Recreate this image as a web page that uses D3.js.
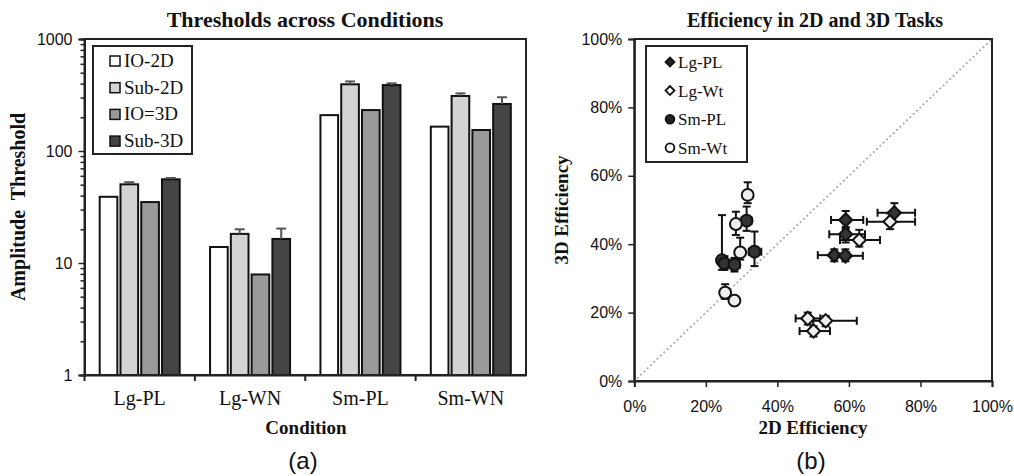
<!DOCTYPE html>
<html>
<head>
<meta charset="utf-8">
<script src="https://cdn.jsdelivr.net/npm/d3@7"></script>
<style>
  body { margin: 0; background: #fff; }
  svg text { fill: #111; }
  .serif { font-family: "Liberation Serif", "Times New Roman", serif; }
  .sans { font-family: "Liberation Sans", Arial, sans-serif; }
</style>
</head>
<body>
<script>
// ---- data: bar chart (a) ----
var categories = ["Lg-PL", "Lg-WN", "Sm-PL", "Sm-WN"];
var barSeries = ["IO-2D", "Sub-2D", "IO=3D", "Sub-3D"];
var io2d = [39, 13.9, 209, 165];
var sub2d = [50.4, 18.2, 394, 310];
var sub2dErr = [2.2, 1.8, 24, 17];
var io3d = [35, 7.9, 232, 154];
var sub3d = [55.9, 16.4, 388, 263];
var sub3dErr = [1.5, 3.9, 14, 39];
var logTicks = [1, 10, 100, 1000];

// ---- data: scatter (b) [x, y, xlo, xhi, ylo, yhi] in % ----
var scatterSeries = ["Lg-PL", "Lg-Wt", "Sm-PL", "Sm-Wt"];
var lgPL = [
  [72.7, 49.2, 68, 78.5, 46.5, 52],
  [59.1, 47.1, 55, 64, 44.5, 49.7],
  [59.1, 42.9, 54.5, 64.5, 40.5, 45],
  [55.9, 36.8, 51.3, 60, 35, 38.5],
  [59.0, 36.6, 55.5, 63.9, 35, 38.5]
];
var lgWt = [
  [71.5, 46.6, 65, 78.5, 44.4, 49],
  [62.9, 41.2, 57.5, 68.7, 39.3, 44.2],
  [48.5, 18.3, 45.1, 52, 16.5, 20],
  [53.5, 17.6, 50, 62.2, 16, 19],
  [50.1, 14.6, 46.2, 54.7, 13, 16]
];
var smPL = [
  [31.4, 46.9, 30, 32.8, 43.9, 51],
  [33.6, 37.8, 32, 35.5, 33.6, 43.7],
  [24.5, 35.3, 23.8, 25.5, 32.5, 48.5],
  [25.2, 34.4, 24.5, 26, 32.5, 36.5],
  [28.0, 34.0, 27, 29.5, 32, 36]
];
var smWt = [
  [31.7, 54.4, 30.8, 32.6, 52, 58.1],
  [28.4, 45.9, 27.5, 29.5, 42.7, 49.5],
  [29.6, 37.6, 28.8, 30.5, 35.5, 41.9],
  [25.4, 25.8, 25, 26, 24, 28.3],
  [28.0, 23.5, 27.5, 28.5, 22.5, 24.5]
];
var pctTicks = [0, 20, 40, 60, 80, 100];

var svg = d3.select("body").append("svg")
  .attr("width", 1014).attr("height", 476);

// ================= chart (a) =================
var a = {left: 84.5, right: 526, top: 39, bottom: 375};
var barFills = ["#ffffff", "#d3d3d3", "#9a9a9a", "#454545"];
var barValues = [io2d, sub2d, io3d, sub3d];
var barErrs = [null, sub2dErr, null, sub3dErr];

var xA = d3.scaleBand().domain(categories).range([a.left, a.right]);
var xInner = d3.scaleBand().domain(barSeries).range([-40, 40]).paddingInner(0.15);
var yA = d3.scaleLog().domain([1, 1000]).range([a.bottom, a.top]);

var gA = svg.append("g");

// bars
barSeries.forEach(function(s, si) {
  gA.selectAll(".bar" + si).data(categories).enter().append("rect")
    .attr("x", function(c) { return xA(c) + xA.bandwidth() / 2 + xInner(s); })
    .attr("width", xInner.bandwidth())
    .attr("y", function(c, i) { return yA(barValues[si][i]); })
    .attr("height", function(c, i) { return a.bottom - yA(barValues[si][i]); })
    .attr("fill", barFills[si])
    .attr("stroke", "#111").attr("stroke-width", 2);
  if (barErrs[si]) {
    categories.forEach(function(c, i) {
      var cx = xA(c) + xA.bandwidth() / 2 + xInner(s) + xInner.bandwidth() / 2;
      var y0 = yA(barValues[si][i]), y1 = yA(barValues[si][i] + barErrs[si][i]);
      gA.append("line").attr("x1", cx).attr("x2", cx).attr("y1", y0).attr("y2", y1)
        .attr("stroke", "#555").attr("stroke-width", 2);
      gA.append("line").attr("x1", cx - 5).attr("x2", cx + 5).attr("y1", y1).attr("y2", y1)
        .attr("stroke", "#555").attr("stroke-width", 2);
    });
  }
});

// frame
gA.append("rect").attr("x", a.left).attr("y", a.top)
  .attr("width", a.right - a.left).attr("height", a.bottom - a.top)
  .attr("fill", "none").attr("stroke", "#222").attr("stroke-width", 2);

// y axis (log) with minor ticks
var minor = [];
[1, 10, 100].forEach(function(d) { for (var k = 2; k <= 9; k++) minor.push(d * k); });
var yAxisA = d3.axisLeft(yA).tickValues(logTicks).tickFormat(d3.format("d")).tickSize(6).tickPadding(6);
var gy = gA.append("g").attr("transform", "translate(" + a.left + ",0)").call(yAxisA);
gy.selectAll("text").attr("class", "sans").style("font-size", "16px");
gA.append("g").attr("transform", "translate(" + a.left + ",0)")
  .call(d3.axisLeft(yA).tickValues(minor).tickFormat("").tickSize(4));

// x axis with ticks between categories
var gx = gA.append("g").attr("transform", "translate(0," + a.bottom + ")")
  .call(d3.axisBottom(xA).tickSize(0).tickPadding(16));
gx.selectAll("text").attr("class", "serif").style("font-size", "20px");
gA.selectAll(".sep").data(categories).enter().append("line")
  .attr("x1", function(c) { return xA(c); }).attr("x2", function(c) { return xA(c); })
  .attr("y1", a.bottom).attr("y2", a.bottom + 6)
  .attr("stroke", "#222").attr("stroke-width", 2);
svg.selectAll(".domain").attr("stroke", "#222").attr("stroke-width", 2);
svg.selectAll(".tick line").attr("stroke", "#222").attr("stroke-width", 1.5);

// titles
gA.append("text").attr("class", "serif").attr("x", 305).attr("y", 27)
  .attr("text-anchor", "middle").style("font-size", "22px").style("font-weight", "bold")
  .text("Thresholds across Conditions");
gA.append("text").attr("class", "serif").attr("x", 306).attr("y", 434)
  .attr("text-anchor", "middle").style("font-size", "19px").style("font-weight", "bold")
  .text("Condition");
gA.append("text").attr("class", "serif")
  .attr("transform", "translate(25,207) rotate(-90)")
  .attr("text-anchor", "middle").style("font-size", "20px").style("font-weight", "bold")
  .style("white-space", "pre").text("Amplitude  Threshold");
gA.append("text").attr("class", "sans").attr("x", 303).attr("y", 469)
  .attr("text-anchor", "middle").style("font-size", "24px").text("(a)");

// legend (a)
var legA = gA.append("g");
legA.append("rect").attr("x", 93).attr("y", 46).attr("width", 99).attr("height", 108)
  .attr("fill", "#fff").attr("stroke", "#222").attr("stroke-width", 2);
barSeries.forEach(function(s, i) {
  var cy = 61 + i * 26.7;
  legA.append("rect").attr("x", 110).attr("y", cy - 5).attr("width", 10).attr("height", 10)
    .attr("fill", barFills[i]).attr("stroke", "#111").attr("stroke-width", 1.5);
  legA.append("text").attr("class", "serif").attr("x", 124).attr("y", cy + 6)
    .style("font-size", "19px").text(s);
});

// ================= chart (b) =================
var b = {left: 634.3, right: 992, top: 39, bottom: 381};
var xB = d3.scaleLinear().domain([0, 100]).range([b.left, b.right]);
var yB = d3.scaleLinear().domain([0, 100]).range([b.bottom, b.top]);
var gB = svg.append("g");

gB.append("rect").attr("x", b.left).attr("y", b.top)
  .attr("width", b.right - b.left).attr("height", b.bottom - b.top)
  .attr("fill", "none").attr("stroke", "#222").attr("stroke-width", 2);

// diagonal reference
gB.append("line").attr("x1", xB(0)).attr("y1", yB(0)).attr("x2", xB(100)).attr("y2", yB(100))
  .attr("stroke", "#aaa").attr("stroke-width", 2)
  .attr("stroke-dasharray", "0.1,4.5").attr("stroke-linecap", "round");

var pct = function(d) { return d + "%"; };
var gyB = gB.append("g").attr("transform", "translate(" + b.left + ",0)")
  .call(d3.axisLeft(yB).tickValues(pctTicks).tickFormat(pct).tickSize(6).tickPadding(6));
gyB.selectAll("text").attr("class", "sans").style("font-size", "16px");
var gxB = gB.append("g").attr("transform", "translate(0," + b.bottom + ")")
  .call(d3.axisBottom(xB).tickValues(pctTicks).tickFormat(pct).tickSize(6).tickPadding(14));
gxB.selectAll("text").attr("class", "sans").style("font-size", "16px");
gB.selectAll(".domain").attr("stroke", "#222").attr("stroke-width", 2);
gB.selectAll(".tick line").attr("stroke", "#222").attr("stroke-width", 1.5);

var scatterData = [lgPL, lgWt, smPL, smWt];
var markerFill = ["#333", "#eee", "#333", "#eee"];
var markerType = [d3.symbolSquare, d3.symbolSquare, d3.symbolCircle, d3.symbolCircle];
var markerRot = [45, 45, 0, 0];
var markerSize = [88, 88, 110, 110];
var drawOrder = [1, 0, 2, 3];

// error bars
drawOrder.forEach(function(si) {
  scatterData[si].forEach(function(p) {
    var cx = xB(p[0]), cy = yB(p[1]);
    var segs = [
      [xB(p[2]), cy, xB(p[3]), cy],
      [xB(p[2]), cy - 4, xB(p[2]), cy + 4],
      [xB(p[3]), cy - 4, xB(p[3]), cy + 4],
      [cx, yB(p[4]), cx, yB(p[5])],
      [cx - 4, yB(p[4]), cx + 4, yB(p[4])],
      [cx - 4, yB(p[5]), cx + 4, yB(p[5])]
    ];
    segs.forEach(function(s) {
      gB.append("line").attr("x1", s[0]).attr("y1", s[1]).attr("x2", s[2]).attr("y2", s[3])
        .attr("stroke", "#111").attr("stroke-width", 2);
    });
  });
});

// markers
drawOrder.forEach(function(si) {
  gB.selectAll(".m" + si).data(scatterData[si]).enter().append("path")
    .attr("d", d3.symbol().type(markerType[si]).size(markerSize[si]))
    .attr("transform", function(p) {
      return "translate(" + xB(p[0]) + "," + yB(p[1]) + ") rotate(" + markerRot[si] + ")";
    })
    .attr("fill", markerFill[si]).attr("stroke", "#111").attr("stroke-width", 2);
});

// titles (b)
gB.append("text").attr("class", "serif").attr("x", 815).attr("y", 27)
  .attr("text-anchor", "middle").style("font-size", "20px").style("font-weight", "bold")
  .text("Efficiency in 2D and 3D Tasks");
gB.append("text").attr("class", "serif").attr("x", 813).attr("y", 434)
  .attr("text-anchor", "middle").style("font-size", "19px").style("font-weight", "bold")
  .text("2D Efficiency");
gB.append("text").attr("class", "serif")
  .attr("transform", "translate(568,210) rotate(-90)")
  .attr("text-anchor", "middle").style("font-size", "19px").style("font-weight", "bold")
  .text("3D Efficiency");
gB.append("text").attr("class", "sans").attr("x", 811).attr("y", 469)
  .attr("text-anchor", "middle").style("font-size", "24px").text("(b)");

// legend (b)
var legB = gB.append("g");
legB.append("rect").attr("x", 646).attr("y", 46).attr("width", 101).attr("height", 116)
  .attr("fill", "#fff").attr("stroke", "#222").attr("stroke-width", 2);
scatterSeries.forEach(function(s, i) {
  var cy = 62 + i * 28.6;
  legB.append("path")
    .attr("d", d3.symbol().type(markerType[i]).size(markerType[i] === d3.symbolSquare ? 40 : 60))
    .attr("transform", "translate(670," + cy + ") rotate(" + markerRot[i] + ")")
    .attr("fill", markerFill[i] === "#eee" ? "#fff" : "#222").attr("stroke", "#111").attr("stroke-width", 1.8);
  legB.append("text").attr("class", "serif").attr("x", 678).attr("y", cy + 6)
    .style("font-size", "17px").text(s);
});
</script>
</body>
</html>
